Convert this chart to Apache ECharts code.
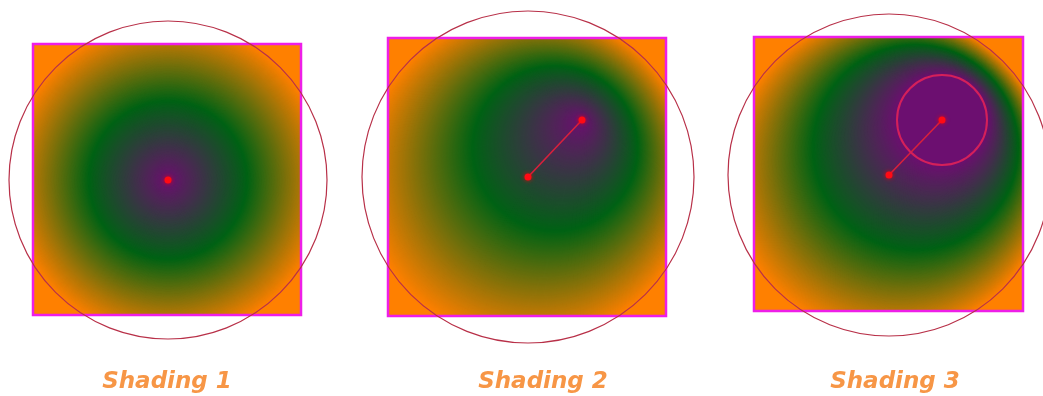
<!DOCTYPE html>
<html>
<head>
<meta charset="utf-8">
<script src="https://cdn.jsdelivr.net/npm/echarts@6/dist/echarts.min.js"></script>
<style>
html, body { margin: 0; padding: 0; background: #fff; }
#main { width: 1043px; height: 396px; }
</style>
</head>
<body>
<div id="main"></div>
<script>
// captions under each panel
var labels = ["Shading 1", "Shading 2", "Shading 3"];
var labelPos = [[167, 382], [543, 382], [895, 382]];
// square bounds [x0, y0, x1, y1]
var squares = [[33, 44, 301, 315], [388, 38, 666, 316], [754, 37, 1023, 311]];
// start circle (t = 0) and end circle (t = 1): [cx, cy, r]
var startCircles = [[168, 180, 0], [582, 120, 0], [942, 120, 45]];
var endCircles = [[168, 180, 159], [528, 177, 166], [889, 175, 161]];
// colour stops at t = 0, 0.5, 1
var stopColors = ["#6c0f70", "#006214", "#ff8000"];
var STEPS = 220;

function renderShading(params, api) {
    var i = api.value(0);
    var sq = squares[i], c0 = startCircles[i], c1 = endCircles[i];
    var p0 = api.coord([sq[0], sq[1]]), p1 = api.coord([sq[2], sq[3]]);
    var box = { x: p0[0], y: p0[1], width: p1[0] - p0[0], height: p1[1] - p0[1] };
    var k = api.size([1, 0])[0];

    var discs = [{ type: "rect", shape: box, style: { fill: stopColors[2] } }];
    for (var s = STEPS; s >= 0; s--) {
        var t = s / STEPS;
        var c = api.coord([c0[0] + t * (c1[0] - c0[0]), c0[1] + t * (c1[1] - c0[1])]);
        var r = (c0[2] + t * (c1[2] - c0[2])) * k;
        if (r <= 0) r = 0.3;
        discs.push({
            type: "circle",
            shape: { cx: c[0], cy: c[1], r: r },
            style: { fill: echarts.color.lerp(t, stopColors), stroke: null }
        });
    }
    var a = api.coord([c0[0], c0[1]]), b = api.coord([c1[0], c1[1]]);
    var twoPoint = a[0] !== b[0] || a[1] !== b[1];
    var children = [
        { type: "group", clipPath: { type: "rect", shape: box }, children: discs },
        { type: "rect", shape: box, style: { fill: null, stroke: "#ee1ee8", lineWidth: 2.5 } },
        { type: "circle", shape: { cx: b[0], cy: b[1], r: c1[2] * k },
          style: { fill: null, stroke: "#b83048", lineWidth: 1.2 } }
    ];
    if (twoPoint) {
        children.push({ type: "line", shape: { x1: a[0], y1: a[1], x2: b[0], y2: b[1] },
            style: { stroke: "#d8203c", lineWidth: 1.6 } });
    }
    if (c0[2] > 0) {
        children.push({ type: "circle", shape: { cx: a[0], cy: a[1], r: c0[2] * k },
            style: { fill: null, stroke: "#d4205a", lineWidth: 2 } });
    }
    children.push({ type: "circle", shape: { cx: a[0], cy: a[1], r: 3.5 },
        style: { fill: "#ff0a14", shadowBlur: 4, shadowColor: "rgba(255,0,0,0.8)" } });
    if (twoPoint) {
        children.push({ type: "circle", shape: { cx: b[0], cy: b[1], r: 3.5 },
            style: { fill: "#ff0a14", shadowBlur: 4, shadowColor: "rgba(255,0,0,0.8)" } });
    }
    var lp = api.coord(labelPos[i]);
    children.push({ type: "text", x: lp[0], y: lp[1], style: {
        text: labels[i], fill: "#f79646", font: "italic bold 23px 'DejaVu Sans'",
        align: "center", verticalAlign: "middle" } });
    return { type: "group", children: children };
}

var chart = echarts.init(document.getElementById("main"), null, { renderer: "canvas" });
chart.setOption({
    animation: false,
    grid: { left: 0, right: 0, top: 0, bottom: 0 },
    xAxis: { type: "value", min: 0, max: 1043, show: false },
    yAxis: { type: "value", min: 0, max: 396, inverse: true, show: false },
    series: [{
        type: "custom",
        clip: false,
        silent: true,
        data: labels.map(function(l, i) { return [i]; }),
        renderItem: renderShading
    }]
});
</script>
</body>
</html>
